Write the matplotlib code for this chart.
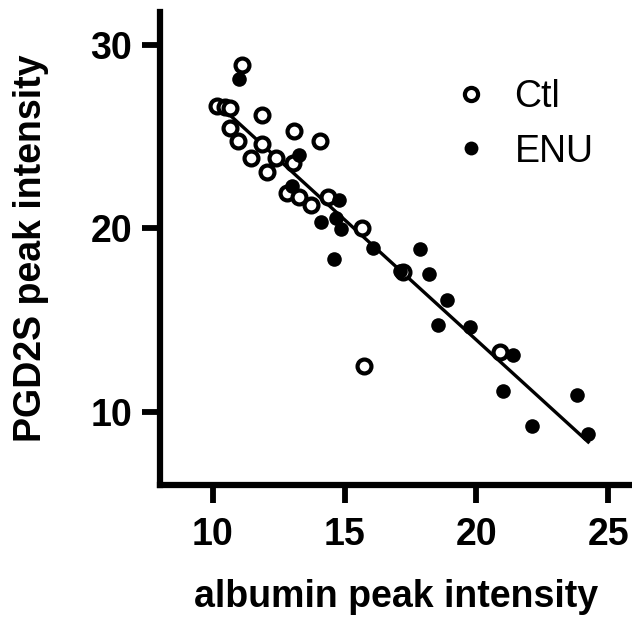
import numpy as np
import matplotlib
matplotlib.use("Agg")
import matplotlib.pyplot as plt

# values
ctl_x = [10.17, 10.45, 10.66, 11.11, 11.87, 10.67, 10.97, 11.87, 13.07, 14.08,
         11.46, 12.06, 12.40, 13.04, 12.82, 13.26, 13.72, 14.39, 15.66, 17.20,
         15.72, 20.90]
ctl_y = [26.65, 26.60, 26.55, 28.91, 26.17, 25.50, 24.75, 24.60, 25.33, 24.78,
         23.81, 23.10, 23.81, 23.54, 21.94, 21.71, 21.30, 21.71, 20.00, 17.60,
         12.51, 13.24]

enu_x = [10.98, 13.26, 13.01, 14.77, 14.10, 14.68, 14.85, 14.58, 16.06, 17.12,
         17.87, 18.21, 18.88, 18.56, 19.77, 21.40, 21.00, 23.80, 22.12, 24.24]
enu_y = [28.13, 23.99, 22.30, 21.55, 20.32, 20.58, 19.96, 18.34, 18.93, 17.65,
         18.89, 17.52, 16.07, 14.74, 14.60, 13.10, 11.11, 10.93, 9.22, 8.78]

x_ticks = [10, 15, 20, 25]
y_ticks = [10, 20, 30]

plt.rcParams['font.family'] = ['Liberation Sans', 'DejaVu Sans']

fig = plt.figure(figsize=(6.32, 6.17), dpi=100)
ax = fig.add_axes([160 / 632, 132 / 617, 472 / 632, 473 / 617])

# linear fit over all points
all_x = np.array(ctl_x + enu_x)
all_y = np.array(ctl_y + enu_y)
slope, icpt = np.polyfit(all_x, all_y, 1)
fx = np.array([10.45, all_x.max()])
ax.plot(fx, slope * fx + icpt, color='black', lw=2.4, zorder=1)

ax.plot(ctl_x, ctl_y, 'o', ms=10, mfc='white', mec='black', mew=3,
        label='Ctl', zorder=2)
ax.plot(enu_x, enu_y, 'o', ms=10.5, mfc='black', mec='black', mew=0,
        label='ENU', zorder=3)

ax.set_xlim(8.0, 25.9)
ax.set_ylim(6.0, 31.8)
ax.set_xticks(x_ticks)
ax.set_yticks(y_ticks)

for side in ['top', 'right']:
    ax.spines[side].set_visible(False)
for side in ['left', 'bottom']:
    ax.spines[side].set_linewidth(4.5)
ax.tick_params(width=4.2, length=13, labelsize=27)
ax.tick_params(axis='x', pad=10)
ax.tick_params(axis='y', pad=7)
for lab in ax.get_xticklabels() + ax.get_yticklabels():
    lab.set_fontweight('bold')

ax.set_xlabel('albumin peak intensity', fontsize=27, fontweight='bold',
              labelpad=19)
ax.set_ylabel('PGD2S peak intensity', fontsize=27, fontweight='bold',
              labelpad=30)

ax.legend(loc='upper right', bbox_to_anchor=(0.99, 0.93), frameon=False,
          fontsize=27, handletextpad=0.75, labelspacing=0.5,
          handlelength=0.8, markerscale=0.95)

fig.savefig('out.png', dpi=100)
